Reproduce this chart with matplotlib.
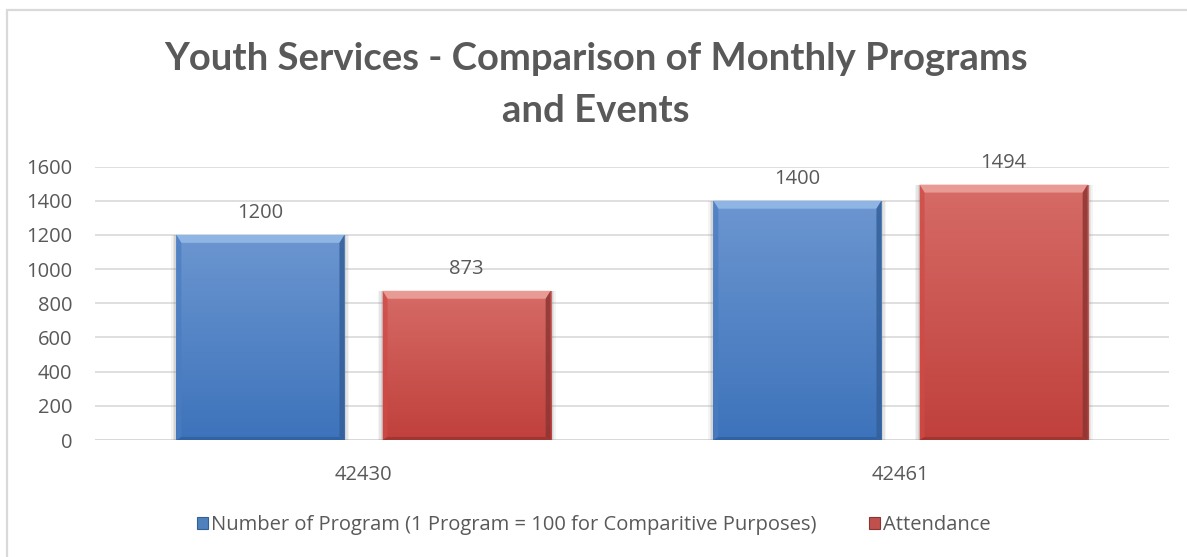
import numpy as np
import matplotlib
matplotlib.use("Agg")
import matplotlib.pyplot as plt
from matplotlib.patches import Rectangle, Polygon
from matplotlib.colors import LinearSegmentedColormap

# ---- data ----
categories = ["42430", "42461"]
series_names = ["Number of Program (1 Program = 100 for Comparitive Purposes)", "Attendance"]
programs = [1200, 1400]
attendance = [873, 1494]
y_ticks = [0, 200, 400, 600, 800, 1000, 1200, 1400, 1600]

TEXT = "#595959"
GRID = "#D9D9D9"
FONT = "Open Sans"
TITLE_FONT = "Lato"

W, H = 1187, 557
fig = plt.figure(figsize=(W / 100, H / 100), dpi=100)
fig.patch.set_facecolor("white")

# plot area
left, right, bottom, top = 95, 1169, 440, 166.5
ax = fig.add_axes([left / W, 1 - bottom / H, (right - left) / W, (bottom - top) / H])
for s in ax.spines.values():
    s.set_visible(False)
ax.set_yticks(y_ticks)
ax.set_yticklabels([str(t) for t in y_ticks])
ax.yaxis.grid(True, color=GRID, lw=1.2, zorder=0)
ax.set_axisbelow(True)
ax.axhline(0, color=GRID, lw=1.4, zorder=1)
ax.tick_params(axis="y", length=0, pad=16.5, labelsize=14.5, labelcolor=TEXT)
ax.tick_params(axis="x", length=0, pad=18, labelsize=14.5, labelcolor=TEXT)
x = np.arange(len(categories))
ax.set_xticks(x)
ax.set_xticklabels(categories)
for lbl in ax.get_yticklabels() + ax.get_xticklabels():
    lbl.set_fontfamily(FONT)

# pixel scale of the data units (for bevel/shadow sizes)
px_x = (right - left) / (len(categories))
px_y = (bottom - top) / 1600.0

width = 0.313
offset = 0.192

palettes = [
    dict(top="#6C96D0", bottom="#3D73BB", face="#4F81BD", bevel="#8FB5E5",
         left="#4A7CC0", right="#34609A", base="#2F5F9E", label=series_names[0]),
    dict(top="#D66B66", bottom="#C0403C", face="#C0504D", bevel="#E89A95",
         left="#D04A45", right="#8C3633", base="#9A3330", label=series_names[1]),
]


def beveled_bar(ax, xc, h, pal):
    bars = ax.bar([xc], [h], width=width, color=pal["face"], zorder=3, lw=0)
    p = bars[0]
    x0, w = p.get_x(), p.get_width()
    x1 = x0 + w
    # soft shadow around the bar
    for k, a in zip([5, 3.5, 2], [0.08, 0.12, 0.16]):
        dx, dy = k / px_x, k / px_y
        ax.add_patch(Rectangle((x0 - dx, -dy * 0.4), w + dx * 2, h + dy * 0.4,
                               color="#7F7F7F", alpha=a, lw=0, zorder=2))
    # vertical gradient fill
    cmap = LinearSegmentedColormap.from_list("g", [pal["bottom"], pal["top"]])
    grad = np.linspace(0, 1, 256).reshape(-1, 1)
    im = ax.imshow(grad, extent=(x0, x1, 0, h), origin="lower", cmap=cmap,
                   aspect="auto", zorder=3.5, interpolation="bicubic")
    im.set_clip_path(p)
    # bevel edges
    d = 5 / px_x
    e = 8 / px_y
    s = 3 / px_y
    ax.add_patch(Polygon([(x0, h), (x1, h), (x1 - d, h - e), (x0 + d, h - e)],
                         closed=True, color=pal["bevel"], lw=0, zorder=4))
    ax.add_patch(Polygon([(x0, h), (x0 + d, h - e), (x0 + d, s), (x0, 0)],
                         closed=True, color=pal["left"], lw=0, zorder=4, alpha=0.7))
    ax.add_patch(Polygon([(x1, h), (x1 - d, h - e), (x1 - d, s), (x1, 0)],
                         closed=True, color=pal["right"], lw=0, zorder=4, alpha=0.85))
    ax.add_patch(Polygon([(x0, 0), (x0 + d, s), (x1 - d, s), (x1, 0)],
                         closed=True, color=pal["base"], lw=0, zorder=4, alpha=0.8))
    ax.text(xc, h + 17 / px_y, f"{h:g}", ha="center", va="baseline",
            fontsize=14.5, color=TEXT, family=FONT, zorder=5)
    return p


for i in range(len(categories)):
    beveled_bar(ax, x[i] - offset, programs[i], palettes[0])
    beveled_bar(ax, x[i] + offset, attendance[i], palettes[1])
ax.set_xlim(-0.5, len(categories) - 0.5)
ax.set_ylim(0, 1600)

# title
fig.text(0.502, 1 - 70 / H, "Youth Services - Comparison of Monthly Programs",
         ha="center", va="baseline", fontsize=27.5, fontweight="bold", color=TEXT,
         family=TITLE_FONT)
fig.text(0.502, 1 - 122 / H, "and Events",
         ha="center", va="baseline", fontsize=27.5, fontweight="bold", color=TEXT,
         family=TITLE_FONT)

# legend
leg_handles = [Rectangle((0, 0), 1, 1, facecolor=pal["face"], edgecolor=pal["right"], lw=0.8)
               for pal in palettes]
leg = fig.legend(leg_handles, [p["label"] for p in palettes], loc="center",
                 bbox_to_anchor=(0.5, 1 - 525 / H), ncol=2, frameon=False,
                 handlelength=0.55, handleheight=0.55, handletextpad=0.15,
                 columnspacing=2.6, prop={"family": FONT, "size": 14.5})
for t in leg.get_texts():
    t.set_color(TEXT)

# chart border
fig.add_artist(Rectangle((6.5 / W, -0.1), 2, 1.1 - 9.5 / H, transform=fig.transFigure,
                         fill=False, ec=GRID, lw=1.6))

fig.savefig("out.png", dpi=100, facecolor="white")
